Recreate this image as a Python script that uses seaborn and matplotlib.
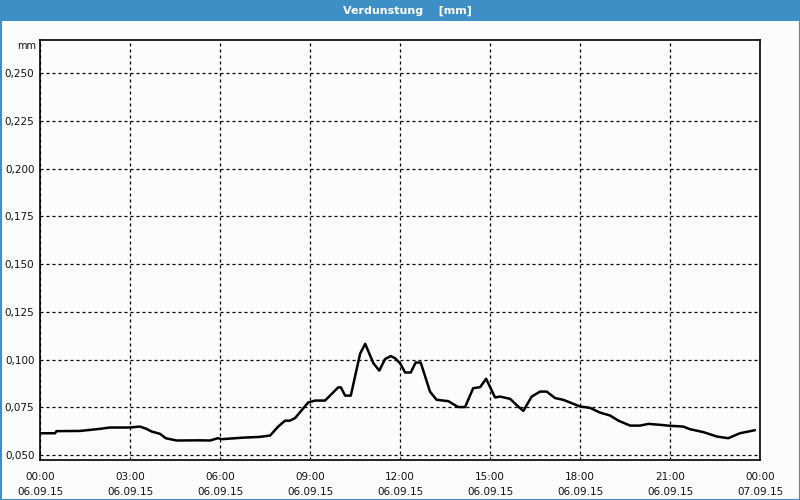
import matplotlib
matplotlib.use("Agg")
import matplotlib.pyplot as plt
from matplotlib.patches import Rectangle
import seaborn as sns
import pandas as pd

# Data (hours since 06.09.15 00:00, evaporation in mm)
hours = [0.0, 0.5, 0.55, 1.33, 2.0, 2.33, 3.0, 3.33, 3.55, 3.72, 4.0, 4.19, 4.55,
         5.33, 5.67, 5.93, 6.06, 6.33, 6.77, 7.33, 7.67, 7.94, 8.17, 8.33, 8.5,
         8.94, 9.17, 9.5, 9.94, 10.03, 10.17, 10.36, 10.67, 10.84, 11.11, 11.31,
         11.5, 11.69, 11.83, 12.0, 12.17, 12.36, 12.52, 12.69, 13.0, 13.22, 13.61,
         13.94, 14.17, 14.44, 14.67, 14.87, 15.17, 15.33, 15.67, 15.94, 16.11,
         16.39, 16.67, 16.89, 17.17, 17.44, 17.67, 18.0, 18.33, 18.67, 19.0, 19.28,
         19.67, 20.0, 20.28, 20.67, 21.0, 21.44, 21.67, 22.11, 22.56, 22.94, 23.33,
         23.83]
values = [0.0615, 0.0615, 0.0626, 0.0627, 0.0638, 0.0645, 0.0645, 0.0650, 0.0638,
          0.0624, 0.0612, 0.0589, 0.0577, 0.0578, 0.0577, 0.0589, 0.0584, 0.0587,
          0.0592, 0.0596, 0.0603, 0.0650, 0.0681, 0.0681, 0.0694, 0.0776, 0.0786,
          0.0786, 0.0855, 0.0855, 0.0812, 0.0812, 0.1031, 0.1083, 0.0982, 0.0943,
          0.1003, 0.1019, 0.1008, 0.0982, 0.0933, 0.0933, 0.0985, 0.0985, 0.0833,
          0.0790, 0.0783, 0.0752, 0.0752, 0.0851, 0.0856, 0.0900, 0.0802, 0.0807,
          0.0795, 0.0755, 0.0732, 0.0807, 0.0833, 0.0833, 0.0799, 0.0790, 0.0776,
          0.0755, 0.0748, 0.0723, 0.0708, 0.0681, 0.0655, 0.0655, 0.0664, 0.0659,
          0.0654, 0.0650, 0.0636, 0.0621, 0.0598, 0.0589, 0.0615, 0.0631]

x_ticks = [0, 3, 6, 9, 12, 15, 18, 21, 24]
x_labels = ["00:00\n06.09.15", "03:00\n06.09.15", "06:00\n06.09.15",
            "09:00\n06.09.15", "12:00\n06.09.15", "15:00\n06.09.15",
            "18:00\n06.09.15", "21:00\n06.09.15", "00:00\n07.09.15"]
y_ticks = [0.050, 0.075, 0.100, 0.125, 0.150, 0.175, 0.200, 0.225, 0.250]
y_labels = ["0,050", "0,075", "0,100", "0,125", "0,150", "0,175", "0,200", "0,225", "0,250"]
title = "Verdunstung    [mm]"

bg = "#FAFDFA"
blue = "#3D8FC6"
txt = "#111111"

sns.set_style("white")
plt.rcParams["font.family"] = ["DejaVu Sans"]

fig = plt.figure(figsize=(8, 5), dpi=100, facecolor=bg)
ax = fig.add_axes([40 / 800, 1 - 460 / 500, 720 / 800, 420 / 500])
ax.set_facecolor(bg)

df = pd.DataFrame({"h": hours, "v": values})
sns.lineplot(data=df, x="h", y="v", ax=ax, color="black", linewidth=1.8)

ax.set_xlim(0, 24)
ax.set_ylim(0.0475, 0.2673)
ax.set_xticks(x_ticks)
ax.set_xticklabels(x_labels, fontsize=7.5, linespacing=1.6, color=txt)
ax.set_xticks(range(0, 25), minor=True)
ax.set_yticks(y_ticks)
ax.set_yticklabels(y_labels, fontsize=7.5, color=txt)
ax.set_xlabel("")
ax.set_ylabel("")
ax.tick_params(axis="x", which="major", length=4, width=1, color="black", pad=5, direction="out")
ax.tick_params(axis="x", which="minor", length=3, width=1, color="black", direction="out")
ax.tick_params(axis="y", length=0, pad=4)
ax.grid(True, which="major", color="black", linestyle=(0, (2.4, 2.4)), linewidth=0.9)
for s in ax.spines.values():
    s.set_color("black")
    s.set_linewidth(1.2)
    s.set_visible(True)

ax.text(-0.006, 1.0 - 6 / 420, "mm", transform=ax.transAxes, ha="right", va="center",
        fontsize=7, color=txt)

# title bar and window border
fig.patches.append(Rectangle((0, 1 - 20.5 / 500), 1, 20.5 / 500, transform=fig.transFigure,
                             facecolor=blue, edgecolor="none", zorder=0))
fig.patches.append(Rectangle((0.5 / 800, 0.5 / 500), 799 / 800, 499 / 500, transform=fig.transFigure,
                             facecolor="none", edgecolor=blue, linewidth=1.5, zorder=1))
fig.text(407 / 800, 1 - 10.5 / 500, title, ha="center", va="center", color="white",
         fontsize=8, fontweight="bold")

fig.savefig("out.png", dpi=100, facecolor=bg)
